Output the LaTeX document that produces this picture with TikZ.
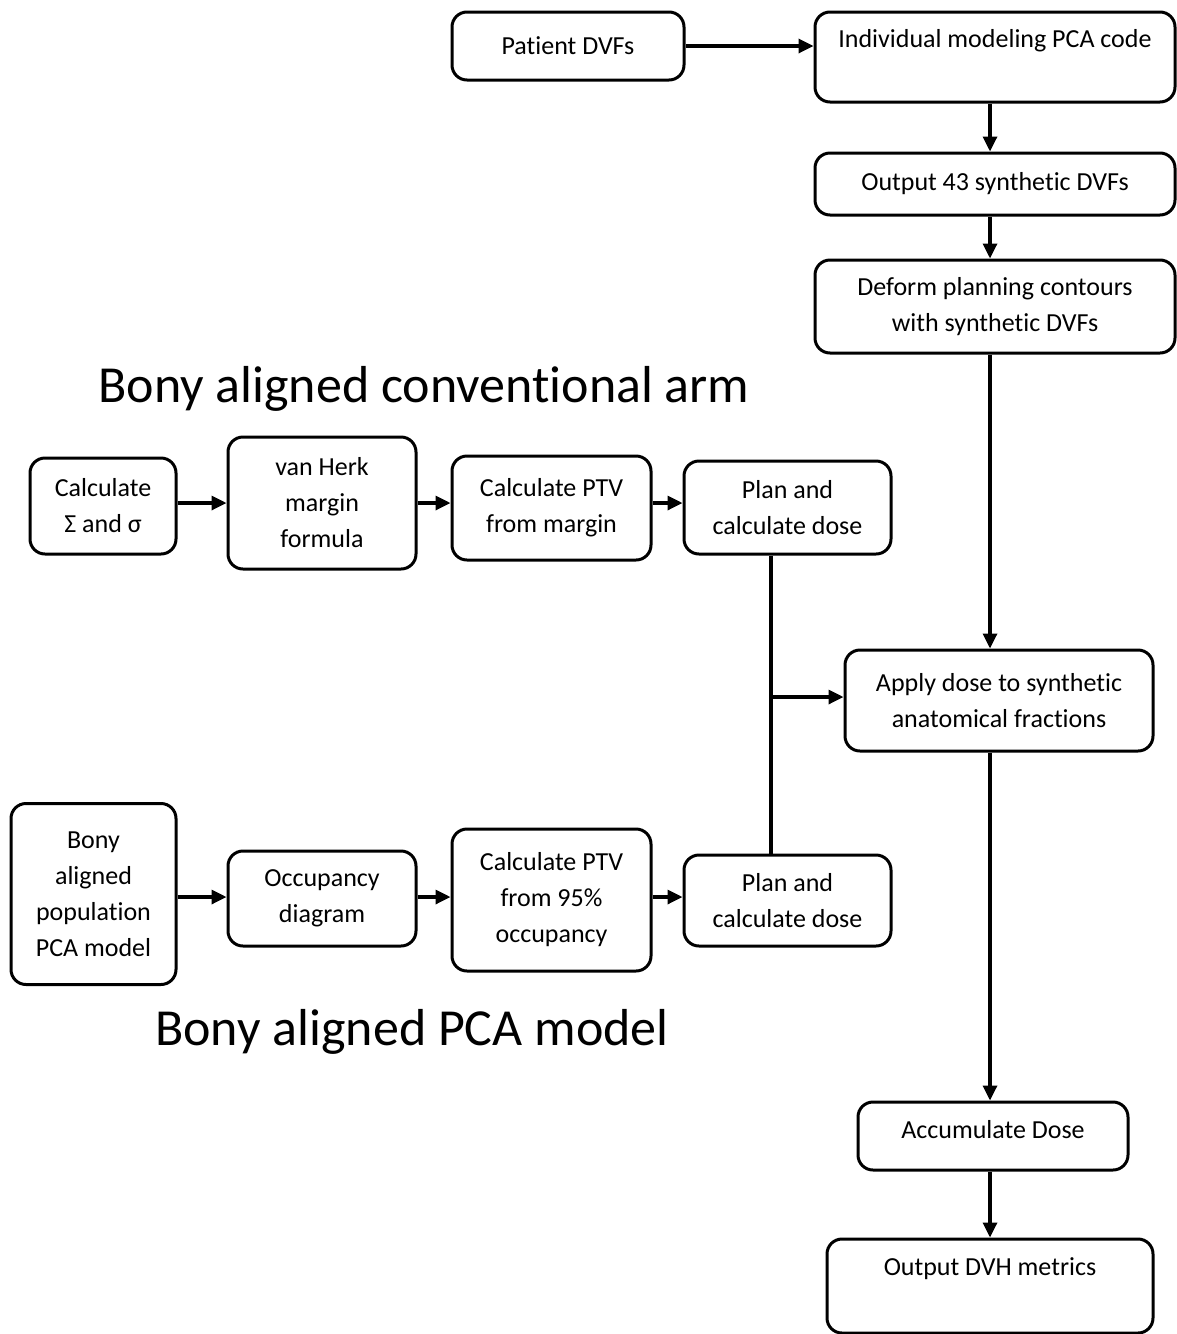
\documentclass[tikz,border=0pt]{standalone}
\usepackage{fontspec}
\setmainfont{Carlito}[Ligatures=NoCommon]
\usetikzlibrary{arrows.meta}

\begin{document}
\begin{tikzpicture}[x=1pt, y=-1pt,
    font=\fontsize{26}{36}\selectfont,
    box/.style={draw, line width=3pt, rounded corners=15pt, align=center, inner sep=0pt},
    arr/.style={line width=3.3pt, -{Triangle[length=15pt,width=14pt]}},
    title/.style={font=\fontsize{52}{60}\selectfont, anchor=base}]
    \useasboundingbox (0,0) rectangle (1177,1334);
    % right hand column
    \node[box, minimum width=232pt, minimum height=68pt] (pdvf) at (568,46) {Patient DVFs};
    \node[box, minimum width=360pt, minimum height=90pt,
      label={[yshift=16pt]center:Individual modeling PCA code}] (indiv) at (995,57) {};
    \node[box, minimum width=360pt, minimum height=62pt] (out43) at (995,184) {Output 43 synthetic DVFs};
    \node[box, minimum width=360pt, minimum height=93pt] (deform) at (995,306.5) {Deform planning contours\\with synthetic DVFs};
    \node[box, minimum width=308pt, minimum height=101pt] (apply) at (999,700.5) {Apply dose to synthetic\\anatomical fractions};
    \node[box, minimum width=270pt, minimum height=68pt,
      label={[yshift=6pt]center:Accumulate Dose}] (accum) at (993,1136) {};
    \node[box, minimum width=326pt, minimum height=94pt,
      label={[yshift=17pt]center:Output DVH metrics}] (dvh) at (990,1286) {};
    % conventional arm
    \node[title] (titleconv) at (424,402) {Bony aligned conventional arm};
    \node[box, minimum width=146pt, minimum height=96pt] (calc) at (103,506) {Calculate\\Σ and σ};
    \node[box, minimum width=188pt, minimum height=132pt] (vanherk) at (322,503) {van Herk\\margin\\formula};
    \node[box, minimum width=199pt, minimum height=104pt] (ptvmargin) at (551.5,508) {Calculate PTV\\from margin};
    \node[box, minimum width=207pt, minimum height=93pt] (planconv) at (787.5,507.5) {Plan and\\calculate dose};
    % PCA model arm
    \node[box, minimum width=165pt, minimum height=181pt] (bony) at (93.5,894) {Bony\\aligned\\population\\PCA model};
    \node[box, minimum width=188pt, minimum height=95pt] (occ) at (322,898.5) {Occupancy\\diagram};
    \node[box, minimum width=199pt, minimum height=142pt] (ptvocc) at (551.5,900) {Calculate PTV\\from 95\%\\occupancy};
    \node[box, minimum width=207pt, minimum height=91pt] (planpca) at (787.5,900.5) {Plan and\\calculate dose};
    \node[title] (titlepca) at (412,1045) {Bony aligned PCA model};

    \coordinate (spine) at (990,0);
    \coordinate (rowconv) at (0,503);
    \coordinate (rowpca) at (0,897);
    \coordinate (merge) at (771,697);

    \draw[arr] (pdvf.east) -- (indiv.west |- pdvf.east);
    \draw[arr] (indiv.south -| spine) -- (out43.north -| spine);
    \draw[arr] (out43.south -| spine) -- (deform.north -| spine);
    \draw[arr] (deform.south -| spine) -- (apply.north -| spine);
    \draw[arr] (apply.south -| spine) -- (accum.north -| spine);
    \draw[arr] (accum.south -| spine) -- (dvh.north -| spine);

    \draw[arr] (calc.east |- rowconv) -- (vanherk.west |- rowconv);
    \draw[arr] (vanherk.east |- rowconv) -- (ptvmargin.west |- rowconv);
    \draw[arr] (ptvmargin.east |- rowconv) -- (planconv.west |- rowconv);

    \draw[arr] (bony.east |- rowpca) -- (occ.west |- rowpca);
    \draw[arr] (occ.east |- rowpca) -- (ptvocc.west |- rowpca);
    \draw[arr] (ptvocc.east |- rowpca) -- (planpca.west |- rowpca);

    \draw[line width=3.3pt] (planconv.south -| merge) -- (planpca.north -| merge);
    \draw[arr] (merge) -- (apply.west |- merge);
\end{tikzpicture}
\end{document}
